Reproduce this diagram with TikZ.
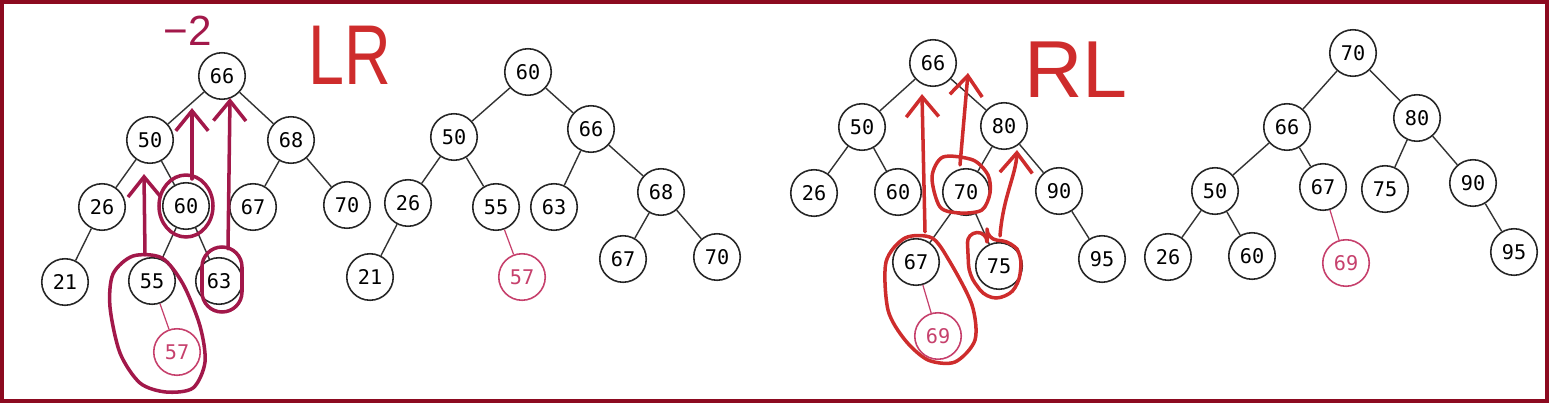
\documentclass[tikz,border=0pt]{standalone}
\usepackage{fontspec}
\usepackage{tikz}
\usetikzlibrary{arrows.meta,calc}
\newfontfamily\keyfont{DejaVu Sans Mono}
\newfontfamily\handfont{Liberation Sans}
\definecolor{framered}{RGB}{140,10,32}
\definecolor{markred}{RGB}{162,24,74}
\definecolor{newpink}{RGB}{198,64,108}
\definecolor{penred}{RGB}{206,44,44}
\tikzset{
  key/.style={circle, draw=black!85, line width=0.9pt, minimum size=9.3mm, inner sep=0pt,
    font=\keyfont\fontsize{11.5}{13}\selectfont},
  newkey/.style={key, draw=newpink, text=newpink},
  link/.style={draw=black!80, line width=0.8pt},
  newlink/.style={draw=newpink, line width=0.7pt},
  lift/.style={-{Straight Barb[length=4mm, width=6.5mm]}, line width=2pt, draw=markred,
    line cap=round, line join=round},
  lasso/.style={line width=2pt, draw=markred, line join=round},
  rlift/.style={lift, draw=penred},
  rlasso/.style={lasso, draw=penred},
  rotlabel/.style={text=penred, inner sep=0pt, font=\handfont\fontsize{46}{46}\selectfont},
}
\begin{document}
\begin{tikzpicture}[x=0.2mm, y=-0.2mm]
  \useasboundingbox (0,0) rectangle (1549,403);
  \draw[framered, line width=0.8mm] (2,2) rectangle (1547,401);

  % LR: before
  \node[key] (a66) at (222,76) {66};
  \node[key] (a50) at (150,140) {50};
  \node[key] (a68) at (291,140) {68};
  \node[key] (a26) at (102,207) {26};
  \node[key] (a60) at (186,206) {60};
  \node[key] (a67) at (253,207) {67};
  \node[key] (a70) at (347,205) {70};
  \node[key] (a21) at (65,282) {21};
  \node[key] (a55) at (152,281) {55};
  \node[key] (a63) at (219,281) {63};
  \node[newkey] (a57) at (177,352) {57};
  \draw[link] (a66) -- (a50);
  \draw[link] (a66) -- (a68);
  \draw[link] (a50) -- (a26);
  \draw[link] (a50) -- (a60);
  \draw[link] (a68) -- (a67);
  \draw[link] (a68) -- (a70);
  \draw[link] (a26) -- (a21);
  \draw[link] (a60) -- (a55);
  \draw[link] (a60) -- (a63);
  \draw[newlink] (a55) -- (a57);

  \node[text=markred, inner sep=0pt, font=\handfont\fontsize{24}{24}\selectfont] (bal) at (188,31) {−2};
  \node[rotlabel] (lr) at (350,55) {\scalebox{0.8}[1.05]{LR}};
  \draw[lasso] (a60) ellipse [x radius=5.4mm, y radius=6.2mm];
  \draw[lasso, rounded corners=4mm] ($(a63)+(-17,-34)$) rectangle ($(a63)+(23,31)$);
  \draw[lasso] plot[smooth cycle] coordinates {(133,256) (162,258) (183,284) (200,326)
    (205,362) (193,388) (166,392) (140,383) (120,353) (110,307) (113,274)};
  \draw[lift] ($(a55.north)+(-7,-2)$) -- ($(a50.south)+(-6,10)$);
  \draw[lift] ($(a60.north)+(6,-3)$) -- ($(a66.south)+(-30,8)$);
  \draw[lift] ($(a63.north)+(9,-8)$) -- ($(a66.south)+(8,-2)$);

  % LR: after
  \node[key] (b60) at (528,72) {60};
  \node[key] (b50) at (454,137) {50};
  \node[key] (b66) at (591,129) {66};
  \node[key] (b26) at (408,203) {26};
  \node[key] (b55) at (496,207) {55};
  \node[key] (b63) at (554,207) {63};
  \node[key] (b68) at (661,192) {68};
  \node[key] (b21) at (370,277) {21};
  \node[newkey] (b57) at (522,277) {57};
  \node[key] (b67) at (623,259) {67};
  \node[key] (b70) at (717,257) {70};
  \draw[link] (b60) -- (b50);
  \draw[link] (b60) -- (b66);
  \draw[link] (b50) -- (b26);
  \draw[link] (b50) -- (b55);
  \draw[link] (b66) -- (b63);
  \draw[link] (b66) -- (b68);
  \draw[link] (b26) -- (b21);
  \draw[link] (b68) -- (b67);
  \draw[link] (b68) -- (b70);
  \draw[newlink] (b55) -- (b57);

  % RL: before
  \node[key] (c66) at (933,63) {66};
  \node[key] (c50) at (862,127) {50};
  \node[key] (c80) at (1004,126) {80};
  \node[key] (c26) at (814,193) {26};
  \node[key] (c60) at (898,192) {60};
  \node[key] (c70) at (966,192) {70};
  \node[key] (c90) at (1059,191) {90};
  \node[key] (c67) at (916,262) {67};
  \node[key] (c75) at (999,266) {75};
  \node[key] (c95) at (1102,259) {95};
  \node[newkey] (c69) at (938,336) {69};
  \draw[link] (c66) -- (c50);
  \draw[link] (c66) -- (c80);
  \draw[link] (c50) -- (c26);
  \draw[link] (c50) -- (c60);
  \draw[link] (c80) -- (c70);
  \draw[link] (c80) -- (c90);
  \draw[link] (c70) -- (c67);
  \draw[link] (c70) -- (c75);
  \draw[link] (c90) -- (c95);
  \draw[newlink] (c67) -- (c69);

  \node[rotlabel] (rl) at (1076,70) {RL};
  \draw[rlasso] plot[smooth cycle] coordinates {(943,157) (973,160) (988,175) (990,193)
    (982,210) (960,213) (940,207) (932,177)};
  \draw[rlasso] plot[smooth cycle] coordinates {(905,238) (932,238) (950,262) (972,305)
    (975,340) (955,362) (928,360) (905,340) (888,310) (886,262)};
  \draw[rlasso, rounded corners=2mm] (967,233) -- (987,232) -- (987,239) -- (1012,242)
    -- (1022,256) -- (1019,284) -- (1006,298) -- (986,298) -- (969,275) -- cycle;
  \draw[rlift] ($(c67.north)+(9,-6)$) -- ($(c66.south)+(-11,7)$);
  \draw[rlift] ($(c70.north)+(-6,-3)$) -- ($(c80.north)+(-36,-29)$);
  \draw[rlift] ($(c75.north)+(1,-6)$) .. controls ($(c75.north)+(4,-45)$)
    and ($(c80.south)+(12,25)$) .. ($(c80.south)+(13,0)$);

  % RL: after
  \node[key] (d70) at (1353,53) {70};
  \node[key] (d66) at (1287,127) {66};
  \node[key] (d80) at (1417,118) {80};
  \node[key] (d50) at (1215,191) {50};
  \node[key] (d67) at (1323,187) {67};
  \node[key] (d75) at (1385,189) {75};
  \node[key] (d90) at (1473,183) {90};
  \node[key] (d26) at (1168,257) {26};
  \node[key] (d60) at (1252,256) {60};
  \node[newkey] (d69) at (1346,263) {69};
  \node[key] (d95) at (1514,252) {95};
  \draw[link] (d70) -- (d66);
  \draw[link] (d70) -- (d80);
  \draw[link] (d66) -- (d50);
  \draw[link] (d66) -- (d67);
  \draw[link] (d80) -- (d75);
  \draw[link] (d80) -- (d90);
  \draw[link] (d50) -- (d26);
  \draw[link] (d50) -- (d60);
  \draw[link] (d90) -- (d95);
  \draw[newlink] (d67) -- (d69);
\end{tikzpicture}
\end{document}
